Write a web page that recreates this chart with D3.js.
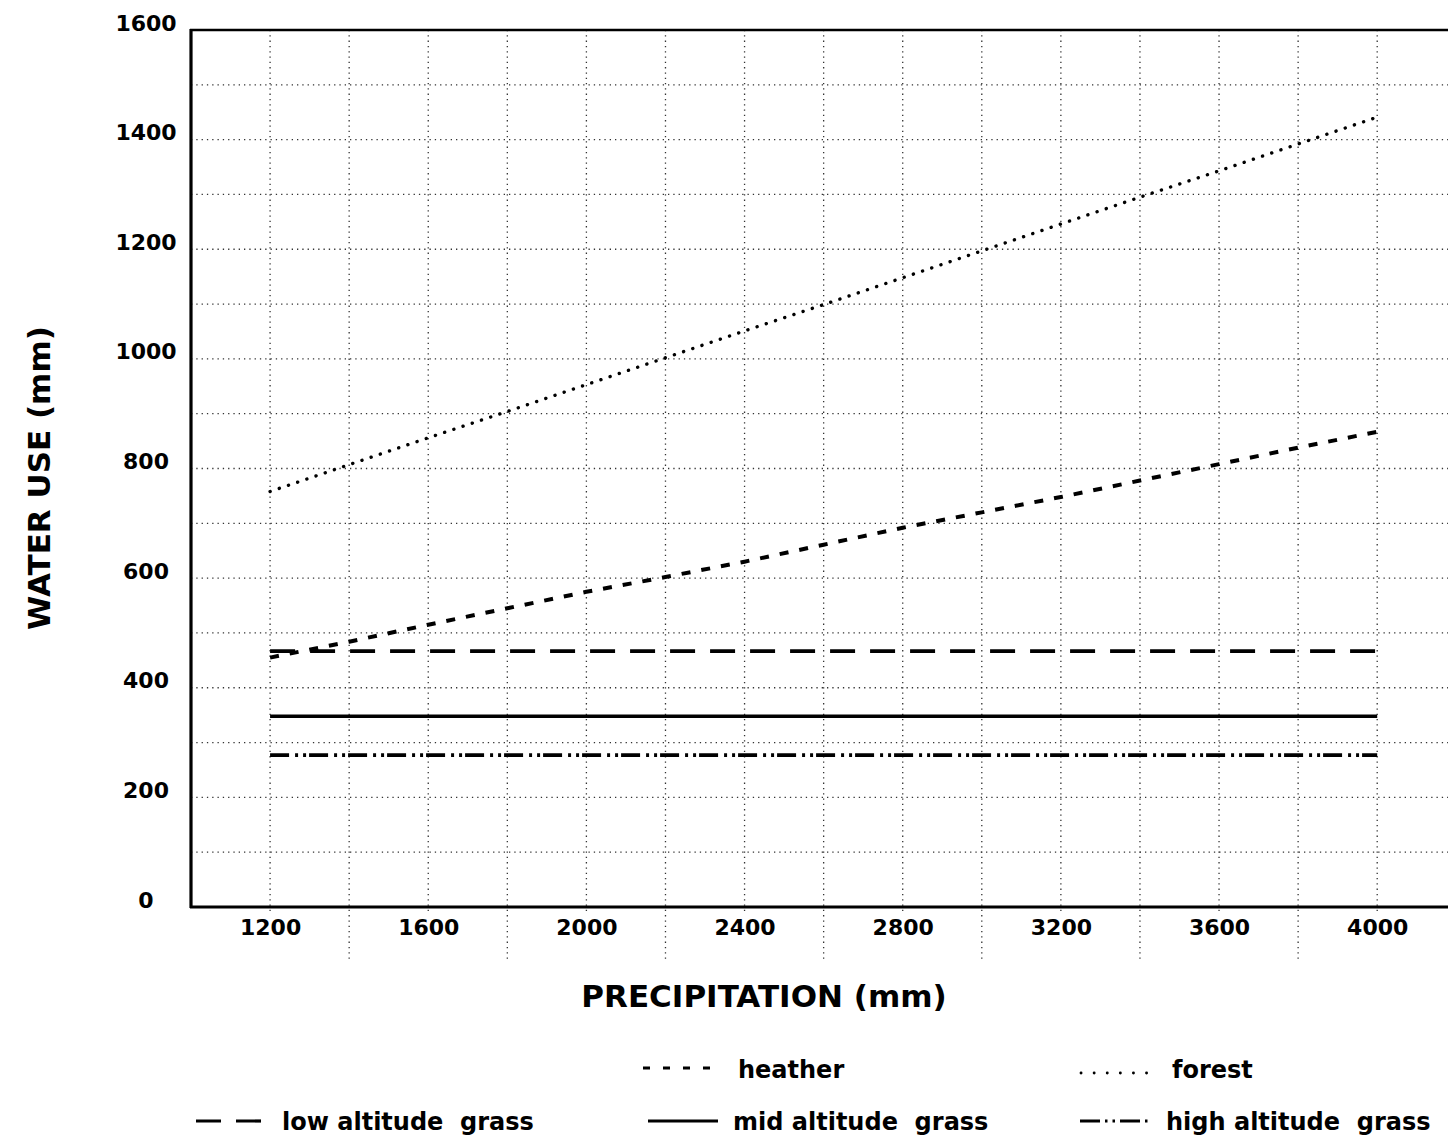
<!DOCTYPE html>
<html>
<head>
<meta charset="utf-8">
<script src="https://cdn.jsdelivr.net/npm/d3@7"></script>
<style>
  html, body { margin: 0; padding: 0; background: #fff; }
  svg { display: block; }
  text { font-family: "DejaVu Sans", "Liberation Sans", Arial, sans-serif; font-weight: bold; fill: #000; white-space: pre; }
</style>
</head>
<body>
<script>
// ---------- data ----------
const precipitation = [1200, 1400, 1600, 1800, 2000, 2200, 2400, 2600, 2800, 3000, 3200, 3400, 3600, 3800, 4000];
const heather  = [455, 484, 515, 545, 575, 602, 630, 661, 692, 720, 748, 778, 808, 838, 867];
const forest   = [758, 807, 856, 904, 953, 1002, 1051, 1099, 1148, 1197, 1246, 1295, 1343, 1392, 1441];
const lowGrass = [467, 467, 467, 467, 467, 467, 467, 467, 467, 467, 467, 467, 467, 467, 467];
const midGrass = [348, 348, 348, 348, 348, 348, 348, 348, 348, 348, 348, 348, 348, 348, 348];
const highGrass= [277, 277, 277, 277, 277, 277, 277, 277, 277, 277, 277, 277, 277, 277, 277];
const seriesNames = ["heather", "forest", "low altitude  grass", "mid altitude  grass", "high altitude  grass"];
const xTickValues = [1200, 1600, 2000, 2400, 2800, 3200, 3600, 4000];
const yTickValues = [0, 200, 400, 600, 800, 1000, 1200, 1400, 1600];
const xTitle = "PRECIPITATION (mm)";
const yTitle = "WATER USE (mm)";

// ---------- styles (kept separate from data) ----------
const styles = {
  "heather":              { dash: "9,11",            width: 4,   cap: "butt"  },
  "forest":               { dash: "0.1,9.6",         width: 3.4, cap: "round" },
  "low altitude  grass":  { dash: "25,15",           width: 3.8, cap: "butt"  },
  "mid altitude  grass":  { dash: null,              width: 3.4, cap: "butt"  },
  "high altitude  grass": { dash: "19,6,3,5,3,3",    width: 3.8, cap: "butt"  }
};
const seriesValues = [heather, forest, lowGrass, midGrass, highGrass];

const W = 1448, H = 1140;
const svg = d3.select("body").append("svg").attr("width", W).attr("height", H);

const x = d3.scaleLinear().domain([1000, 4400]).range([191, 191 + 3400 * 0.3954]);
const y = d3.scaleLinear().domain([0, 1600]).range([907, 30]);

// ---------- grid ----------
const grid = svg.append("g").attr("stroke", "#333").attr("stroke-width", 1.3).attr("stroke-dasharray", "1.3,4");
grid.selectAll("line.h").data(d3.range(100, 1600, 100)).join("line")
  .attr("x1", x(1000)).attr("x2", W).attr("y1", d => y(d)).attr("y2", d => y(d));
grid.selectAll("line.v").data(d3.range(1200, 4400, 200)).join("line")
  .attr("x1", d => x(d)).attr("x2", d => x(d))
  .attr("y1", y(1600)).attr("y2", d => ((d - 1200) % 400 === 0) ? y(0) + 8 : y(0) + 52);

// ---------- frame ----------
const frame = svg.append("g").attr("stroke", "#000").attr("fill", "none");
frame.append("line").attr("x1", x(1000)).attr("x2", x(1000)).attr("y1", y(1600) - 1).attr("y2", y(0) + 1).attr("stroke-width", 3.2);
frame.append("line").attr("x1", x(1000) - 1).attr("x2", W).attr("y1", y(1600)).attr("y2", y(1600)).attr("stroke-width", 2.6);
frame.append("line").attr("x1", x(1000) - 1).attr("x2", W).attr("y1", y(0)).attr("y2", y(0)).attr("stroke-width", 3);

// ---------- axes (labels) ----------
const xAxis = svg.append("g").attr("transform", `translate(0,${y(0)})`)
  .call(d3.axisBottom(x).tickValues(xTickValues).tickSize(0).tickFormat(d3.format("d")));
xAxis.select(".domain").remove();
xAxis.selectAll("text").attr("y", 28).attr("dy", 0)
  .style("font-size", "22px").style("font-family", "DejaVu Sans").style("font-weight", "bold").attr("fill", "#000");

const yAxis = svg.append("g").attr("transform", `translate(${x(1000)},0)`)
  .call(d3.axisLeft(y).tickValues(yTickValues).tickSize(0).tickFormat(d3.format("d")));
yAxis.select(".domain").remove();
yAxis.selectAll("text").attr("x", 146 - x(1000)).attr("dy", 0).attr("text-anchor", "middle")
  .style("font-size", "22px").style("font-family", "DejaVu Sans").style("font-weight", "bold").attr("fill", "#000");

svg.append("text").attr("x", 764).attr("y", 1007).attr("text-anchor", "middle")
  .style("font-size", "31px").text(xTitle);
svg.append("text").attr("transform", "translate(50,478) rotate(-90)").attr("text-anchor", "middle")
  .style("font-size", "31px").text(yTitle);

// ---------- series ----------
const line = d3.line().x((d, i) => x(precipitation[i])).y(d => y(d));
seriesNames.forEach((name, k) => {
  const st = styles[name];
  svg.append("path").datum(seriesValues[k])
    .attr("d", line)
    .attr("fill", "none").attr("stroke", "#000")
    .attr("stroke-width", st.width)
    .attr("stroke-linecap", st.cap)
    .attr("stroke-dasharray", st.dash);
});

// ---------- legend ----------
const legendLayout = [
  { sx: 643, ex: 712, ly: 1068, tx: 738, ty: 1078 },
  { sx: 1081, ex: 1147, ly: 1073, tx: 1172, ty: 1078 },
  { sx: 196, ex: 262, ly: 1121, tx: 282, ty: 1130 },
  { sx: 648, ex: 718, ly: 1121, tx: 733, ty: 1130 },
  { sx: 1080, ex: 1151, ly: 1121, tx: 1166, ty: 1130 }
];
const legendDash = {
  "heather": "7,13",
  "forest": "0.1,13",
  "low altitude  grass": "25,15",
  "mid altitude  grass": null,
  "high altitude  grass": "20,5,2.5,5,2.5,5"
};
const leg = svg.append("g");
seriesNames.forEach((name, k) => {
  const L = legendLayout[k], st = styles[name];
  leg.append("line").attr("x1", L.sx).attr("x2", L.ex).attr("y1", L.ly).attr("y2", L.ly)
    .attr("stroke", "#000").attr("stroke-width", name === "forest" ? 2.8 : 3.2)
    .attr("stroke-linecap", st.cap).attr("stroke-dasharray", legendDash[name]);
  leg.append("text").attr("x", L.tx).attr("y", L.ty).style("font-size", "24px").text(name);
});
</script>
</body>
</html>
